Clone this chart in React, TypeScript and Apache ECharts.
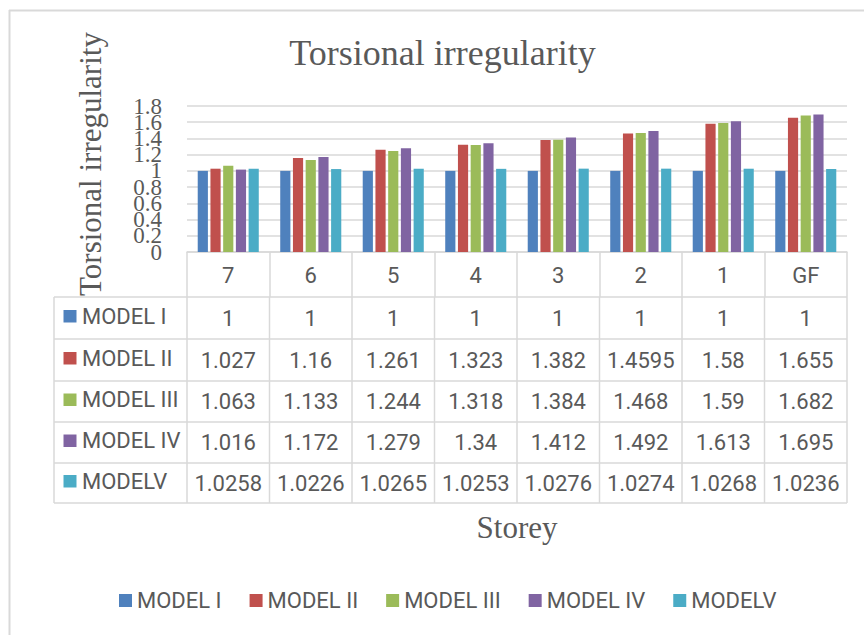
import React, { useEffect, useRef } from "react";
import * as echarts from "echarts";

const categories = ["7", "6", "5", "4", "3", "2", "1", "GF"];
const seriesNames = ["MODEL I", "MODEL II", "MODEL III", "MODEL IV", "MODELV"];
const model1 = [1, 1, 1, 1, 1, 1, 1, 1];
const model2 = [1.027, 1.16, 1.261, 1.323, 1.382, 1.4595, 1.58, 1.655];
const model3 = [1.063, 1.133, 1.244, 1.318, 1.384, 1.468, 1.59, 1.682];
const model4 = [1.016, 1.172, 1.279, 1.34, 1.412, 1.492, 1.613, 1.695];
const model5 = [1.0258, 1.0226, 1.0265, 1.0253, 1.0276, 1.0274, 1.0268, 1.0236];
const seriesValues = [model1, model2, model3, model4, model5];
const colors = ["#4F81BD", "#C0504D", "#9BBB59", "#8064A2", "#4BACC6"];
const yMin = 0;
const yMax = 1.8;
const yInterval = 0.2;

const TEXT = "#595959";
const LINE = "#d9d9d9";
const SERIF = "'Liberation Serif', 'Times New Roman', serif";
const SANS = "Roboto, 'Noto Sans', sans-serif";

// layout
const G_LEFT = 187;
const G_RIGHT = 847;
const G_TOP = 106;
const G_BOTTOM = 252;
const TABLE_LEFT = 54;
const ROW_LINES = [297, 339, 381, 422, 463, 503];

export default function App() {
  const ref = useRef<HTMLDivElement>(null);
  useEffect(() => {
    if (!ref.current) return;
    const chart = echarts.init(ref.current, undefined, { renderer: "svg" });
    const band = (G_RIGHT - G_LEFT) / categories.length;
    const graphic: any[] = [];
    // outer border
    graphic.push({ type: "line", shape: { x1: 9, y1: 10.5, x2: 864, y2: 10.5 }, style: { stroke: LINE, lineWidth: 2 } });
    graphic.push({ type: "line", shape: { x1: 9.5, y1: 10, x2: 9.5, y2: 635 }, style: { stroke: LINE, lineWidth: 2 } });
    // title
    graphic.push({
      type: "text", x: 442.5, y: 53,
      style: { text: "Torsional irregularity", fontSize: 36, fontFamily: SERIF, fill: TEXT, textAlign: "center", textVerticalAlign: "middle" },
    });
    // y axis name
    graphic.push({
      type: "text", x: 90, y: 164, rotation: Math.PI / 2,
      style: { text: "Torsional irregularity", fontSize: 31, fontFamily: SERIF, fill: TEXT, textAlign: "center", textVerticalAlign: "middle" },
    });
    // x axis name
    graphic.push({
      type: "text", x: (G_LEFT + G_RIGHT) / 2, y: 527.5,
      style: { text: "Storey", fontSize: 31, fontFamily: SERIF, fill: TEXT, textAlign: "center", textVerticalAlign: "middle" },
    });
    // table lines
    const top = ROW_LINES[0];
    const bottom = ROW_LINES[ROW_LINES.length - 1];
    ROW_LINES.forEach((y) => {
      graphic.push({ type: "line", shape: { x1: TABLE_LEFT, y1: y, x2: G_RIGHT, y2: y }, style: { stroke: LINE, lineWidth: 1.5 } });
    });
    graphic.push({ type: "line", shape: { x1: TABLE_LEFT, y1: top, x2: TABLE_LEFT, y2: bottom }, style: { stroke: LINE, lineWidth: 1.5 } });
    for (let k = 0; k <= categories.length; k++) {
      const x = G_LEFT + k * band;
      graphic.push({ type: "line", shape: { x1: x, y1: top, x2: x, y2: bottom }, style: { stroke: LINE, lineWidth: 1.5 } });
    }
    // table rows
    seriesNames.forEach((name, r) => {
      const cy = (ROW_LINES[r] + ROW_LINES[r + 1]) / 2;
      graphic.push({ type: "rect", shape: { x: 63.5, y: cy - 8, width: 13, height: 12.5 }, style: { fill: colors[r] } });
      graphic.push({
        type: "text", x: 82, y: cy - 2,
        style: { text: name, fontSize: 22, fontFamily: SANS, fill: TEXT, textAlign: "left", textVerticalAlign: "middle" },
      });
      seriesValues[r].forEach((v, c) => {
        graphic.push({
          type: "text", x: G_LEFT + (c + 0.5) * band, y: cy,
          style: { text: String(v), fontSize: 22, fontFamily: SANS, fill: TEXT, textAlign: "center", textVerticalAlign: "middle" },
        });
      });
    });

    const yLabelStyle = { fontSize: 23, fontFamily: SERIF, color: TEXT, margin: 25, hideOverlap: false };

    chart.setOption({
      animation: false,
      color: colors,
      grid: { left: G_LEFT, top: G_TOP, width: G_RIGHT - G_LEFT, height: G_BOTTOM - G_TOP, containLabel: false },
      legend: {
        data: seriesNames,
        left: 119,
        top: 589.5,
        itemWidth: 13,
        itemHeight: 13,
        itemGap: 28,
        icon: "rect",
        padding: 0,
        textStyle: { fontSize: 22, fontFamily: SANS, color: TEXT },
      },
      xAxis: {
        type: "category",
        data: categories,
        axisLine: { show: true, lineStyle: { color: LINE, width: 1.5 } },
        axisTick: { show: true, length: 45, lineStyle: { color: LINE, width: 1.5 } },
        axisLabel: { fontSize: 22, fontFamily: SANS, color: TEXT, margin: 12 },
      },
      yAxis: [
        {
          type: "value",
          position: "left",
          min: yMin,
          max: yMax,
          interval: yInterval,
          axisLine: { show: false },
          axisTick: { show: false },
          axisLabel: { ...yLabelStyle, showMinLabel: false, showMaxLabel: false },
          splitLine: { lineStyle: { color: LINE, width: 1.5 } },
        },
        {
          type: "value",
          position: "left",
          offset: 0,
          min: yMin,
          max: yMax,
          interval: yMax - yMin,
          axisLine: { show: false },
          axisTick: { show: false },
          axisLabel: { ...yLabelStyle, showMinLabel: true, showMaxLabel: true },
          splitLine: { show: false },
        },
      ],
      series: seriesNames.map((name, i) => ({
        name,
        type: "bar",
        yAxisIndex: 0,
        data: seriesValues[i],
        barCategoryGap: "26%",
        barGap: "25%",
        itemStyle: { color: colors[i] },
      })),
      graphic,
    });
    return () => chart.dispose();
  }, []);
  return <div ref={ref} style={{ position: "fixed", left: 0, top: 0, width: 864, height: 635, background: "#fff" }} />;
}
